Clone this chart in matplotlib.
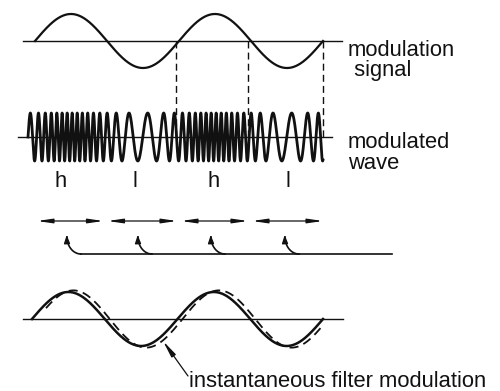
import numpy as np
import matplotlib
matplotlib.use("Agg")
import matplotlib.pyplot as plt

# ---------- VALUES (pixel units) ----------
mod_start, mod_end = 35, 323          # modulation signal: first / last zero crossing
mod_period = 144                      # one cycle of the modulation signal
mod_amp = 27
mod_base = 41
mod_axis = (23, 342)

dashed_x = [176, 248, 323]            # dashed drop lines
dashed_y = (41, 140)

wave_start, wave_end = 28, 323        # frequency-modulated wave
wave_base = 137
wave_amp = 24
wave_axis = (18, 332)
f_high, f_low = 0.2, 0.05             # cycles per pixel at "h" and "l"

hl_labels = ["h", "l", "h", "l"]
hl_x = [61, 135, 214, 288]
hl_y = 187

seg_edges = [35, 105.5, 179, 250, 325]   # double arrows
seg_y = 221

hook_x = [67, 138, 211, 285]              # hooked arrows
hook_top, hook_line_y = 235, 254
hook_line_end = 392

out_start, out_end = 32, 323              # bottom sine (filter output)
out_base = 319
out_amp = 27
out_axis = (23, 343)
lag = 5                                   # dashed curve lag

# ---------- FIGURE ----------
fig = plt.figure(figsize=(5, 3.91), dpi=100)
ax = fig.add_axes([0, 0, 1, 1])
ax.set_xlim(0, 500)
ax.set_ylim(391, 0)
ax.axis("off")

ink = "#111111"
fs = 15.8
font = dict(family=["Liberation Sans", "DejaVu Sans"], color=ink, fontsize=fs)

# modulation signal
x = np.linspace(mod_start, mod_end, 600)
ax.plot(mod_axis, [mod_base, mod_base], color=ink, lw=1.0)
ax.plot(x, mod_base - mod_amp * np.sin(2 * np.pi * (x - mod_start) / mod_period),
        color=ink, lw=1.6)
for dx in dashed_x:
    ax.plot([dx, dx], dashed_y, color=ink, lw=1.0, ls=(0, (5, 3)))
ax.text(348, 76, "modulation\n signal", va="baseline", linespacing=0.95, **font)

# modulated wave
xw = np.linspace(wave_start, wave_end, 6000)
f0 = (f_high + f_low) / 2
df = (f_high - f_low) / 2
freq = f0 + df * np.sin(2 * np.pi * (xw - mod_start) / mod_period)
phase = 2 * np.pi * np.concatenate([[0], np.cumsum(freq[1:] * np.diff(xw))])
ax.plot(wave_axis, [wave_base, wave_base], color=ink, lw=1.0)
ax.plot(xw, wave_base - wave_amp * np.sin(phase), color=ink, lw=2.0)
ax.text(348, 169, "modulated\nwave", va="baseline", linespacing=1.0, **font)
for lab, lx in zip(hl_labels, hl_x):
    ax.text(lx, hl_y, lab, ha="center", va="baseline", **font)

# double-headed segment arrows
for a, b in zip(seg_edges[:-1], seg_edges[1:]):
    ax.annotate("", xy=(b, seg_y), xytext=(a, seg_y),
                arrowprops=dict(arrowstyle="<|-|>,head_length=0.9,head_width=0.13",
                                color=ink, lw=0.9, mutation_scale=10,
                                shrinkA=1.5, shrinkB=1.5))

# hooked arrows on a common line
ax.plot([hook_x[0] + 14, hook_line_end], [hook_line_y, hook_line_y], color=ink, lw=1.2)
t = np.linspace(0, np.pi / 2, 50)
rx, ry = 14, hook_line_y - hook_top - 2
for hx in hook_x:
    ax.plot(hx + rx * (1 - np.cos(t)), hook_line_y - ry * (1 - np.sin(t)),
            color=ink, lw=1.2)
    ax.annotate("", xy=(hx - 0.3, hook_top), xytext=(hx, hook_top + 8),
                arrowprops=dict(arrowstyle="-|>,head_length=0.6,head_width=0.22",
                                color=ink, lw=1.0, mutation_scale=8,
                                shrinkA=0, shrinkB=0))

# filter output vs. instantaneous filter modulation
xo = np.linspace(out_start, out_end, 600)
ax.plot(out_axis, [out_base, out_base], color=ink, lw=1.0)
out_period = (out_end - out_start) / 2
ax.plot(xo, out_base - out_amp * np.sin(2 * np.pi * (xo - out_start) / out_period),
        color=ink, lw=1.8)
xd = np.linspace(out_start + 14, out_end - 1, 600)
ax.plot(xd, out_base - 1.06 * out_amp * np.sin(2 * np.pi * (xd - out_start - lag) / out_period),
        color=ink, lw=1.3, ls=(0, (5, 3)))

ax.annotate("", xy=(163, 341), xytext=(188, 376),
            arrowprops=dict(arrowstyle="-|>,head_length=1.0,head_width=0.15",
                            color=ink, lw=0.9, mutation_scale=10,
                            shrinkA=0, shrinkB=0))
ax.text(189, 387, "instantaneous filter modulation", va="baseline", **font)

fig.savefig("out.png", dpi=100)
